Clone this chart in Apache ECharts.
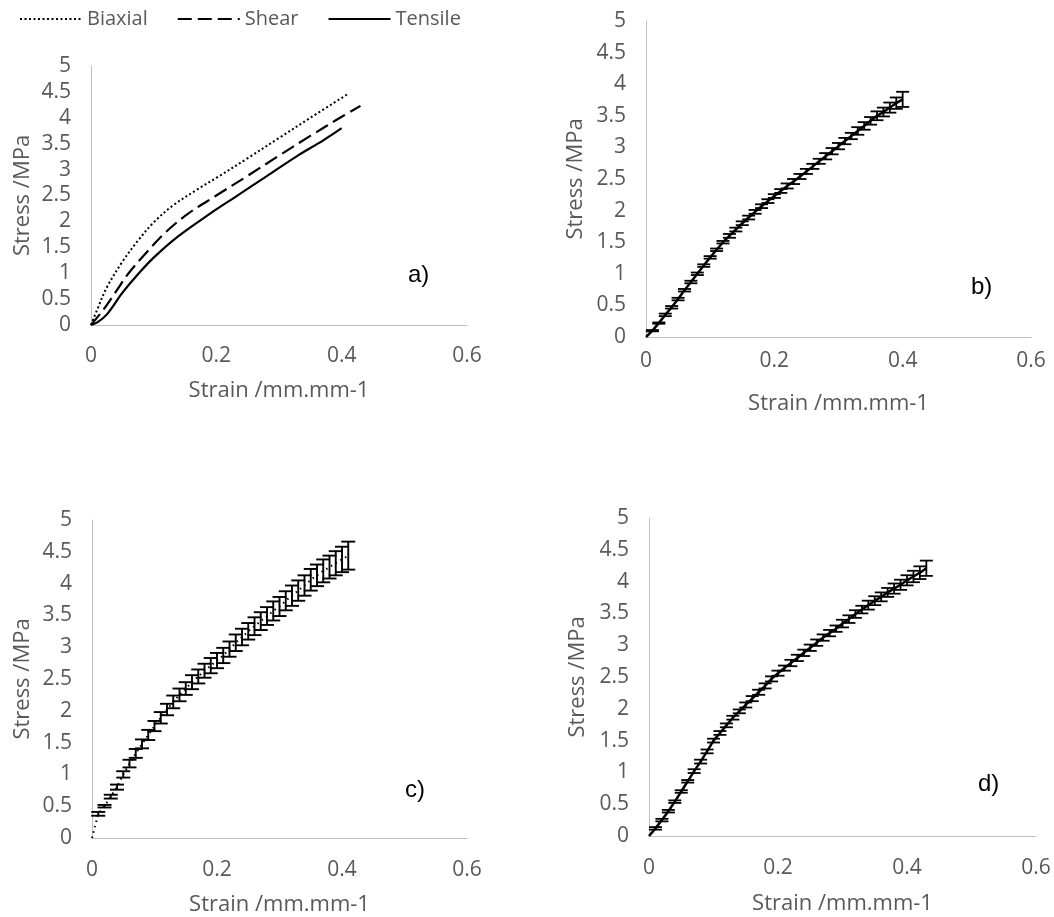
<!DOCTYPE html>
<html>
<head>
<meta charset="utf-8">
<script src="https://cdn.jsdelivr.net/npm/echarts@6/dist/echarts.min.js"></script>
<style>
html,body{margin:0;padding:0;background:#fff;}
#chart{width:1054px;height:917px;}
</style>
</head>
<body>
<div id="chart"></div>
<script>
// ---------- Data ----------
// Panel a) mean curves: [strain, stress]
const biaxialA = [[0,0],[0.01,0.3],[0.025,0.72],[0.05,1.22],[0.075,1.63],[0.1,1.98],[0.13,2.3],[0.17,2.62],[0.2,2.84],[0.25,3.22],[0.3,3.61],[0.35,4.0],[0.41,4.46]];
const shearA   = [[0,0],[0.02,0.3],[0.04,0.65],[0.06,1.0],[0.09,1.42],[0.12,1.8],[0.155,2.15],[0.2,2.5],[0.25,2.88],[0.3,3.27],[0.35,3.65],[0.4,4.02],[0.43,4.23]];
const tensileA = [[0,0],[0.01,0.05],[0.025,0.2],[0.05,0.62],[0.075,0.98],[0.1,1.3],[0.14,1.72],[0.19,2.15],[0.23,2.47],[0.28,2.87],[0.33,3.27],[0.37,3.56],[0.40,3.80]];

// Panel b) tensile with error bars
const strainB = [0,0.01,0.02,0.03,0.04,0.05,0.06,0.07,0.08,0.09,0.10,0.11,0.12,0.13,0.14,0.15,0.16,0.17,0.18,0.19,0.20,0.21,0.22,0.23,0.24,0.25,0.26,0.27,0.28,0.29,0.30,0.31,0.32,0.33,0.34,0.35,0.36,0.37,0.38,0.39,0.40];
const stressB = [0,0.1,0.22,0.35,0.47,0.6,0.74,0.87,1.0,1.13,1.26,1.38,1.5,1.6,1.7,1.8,1.89,1.98,2.07,2.15,2.23,2.31,2.39,2.46,2.54,2.62,2.70,2.78,2.86,2.94,3.02,3.10,3.18,3.26,3.34,3.42,3.50,3.56,3.63,3.70,3.76];
const errB    = [0,0.01,0.01,0.02,0.02,0.02,0.02,0.02,0.02,0.02,0.02,0.02,0.02,0.03,0.03,0.03,0.03,0.03,0.03,0.03,0.03,0.03,0.04,0.04,0.04,0.04,0.04,0.04,0.05,0.05,0.05,0.05,0.05,0.06,0.06,0.06,0.07,0.07,0.08,0.09,0.12];

// Panel c) biaxial with error bars
const strainC = [0,0.01,0.02,0.03,0.04,0.05,0.06,0.07,0.08,0.09,0.10,0.11,0.12,0.13,0.14,0.15,0.16,0.17,0.18,0.19,0.20,0.21,0.22,0.23,0.24,0.25,0.26,0.27,0.28,0.29,0.30,0.31,0.32,0.33,0.34,0.35,0.36,0.37,0.38,0.39,0.40,0.41];
const stressC = [0,0.38,0.5,0.65,0.8,1.0,1.17,1.33,1.48,1.62,1.76,1.89,2.02,2.14,2.25,2.35,2.45,2.54,2.63,2.71,2.79,2.87,2.97,3.07,3.16,3.25,3.33,3.41,3.49,3.57,3.64,3.73,3.81,3.89,3.97,4.06,4.13,4.20,4.26,4.32,4.38,4.44];
const errC    = [0,0.03,0.02,0.03,0.04,0.05,0.06,0.07,0.07,0.08,0.08,0.09,0.09,0.1,0.1,0.1,0.11,0.11,0.11,0.12,0.12,0.12,0.12,0.13,0.13,0.13,0.14,0.14,0.14,0.15,0.15,0.15,0.16,0.16,0.16,0.17,0.17,0.18,0.18,0.19,0.2,0.22];

// Panel d) shear with error bars
const strainD = [0,0.01,0.02,0.03,0.04,0.05,0.06,0.07,0.08,0.09,0.10,0.11,0.12,0.13,0.14,0.15,0.16,0.17,0.18,0.19,0.20,0.21,0.22,0.23,0.24,0.25,0.26,0.27,0.28,0.29,0.30,0.31,0.32,0.33,0.34,0.35,0.36,0.37,0.38,0.39,0.40,0.41,0.42,0.43];
const stressD = [0,0.12,0.25,0.39,0.54,0.7,0.86,1.02,1.17,1.33,1.5,1.62,1.74,1.86,1.96,2.06,2.16,2.26,2.36,2.47,2.56,2.64,2.72,2.8,2.88,2.96,3.04,3.12,3.19,3.26,3.34,3.41,3.49,3.56,3.63,3.7,3.76,3.83,3.89,3.95,4.02,4.08,4.14,4.21];
const errD    = [0,0.02,0.02,0.02,0.02,0.02,0.02,0.03,0.03,0.03,0.03,0.03,0.03,0.03,0.03,0.04,0.04,0.04,0.04,0.04,0.04,0.04,0.05,0.05,0.05,0.05,0.05,0.05,0.05,0.05,0.06,0.06,0.06,0.06,0.07,0.07,0.07,0.07,0.08,0.08,0.08,0.09,0.1,0.12];

const xTicks = {min:0, max:0.6, interval:0.2};
const yTicks = {min:0, max:5, interval:0.5};
const panelLabels = ['a)','b)','c)','d)'];
const legendNames = ['Biaxial','Shear','Tensile'];

// ---------- Helpers ----------
function pairs(xs, ys){ return xs.map((x,i)=>[x, ys[i]]); }
function bars(xs, ys, es){ return xs.map((x,i)=>[x, ys[i]-es[i], ys[i]+es[i]]); }

const GRAY = '#595959';
const FONT = 'Open Sans';

function errRender(capHalf, lw){
  return function(params, api){
    const x = api.value(0), lo = api.value(1), hi = api.value(2);
    if (hi - lo < 1e-9) return null;
    const pH = api.coord([x, hi]);
    const pL = api.coord([x, lo]);
    const st = {stroke:'#000', lineWidth:lw};
    return {type:'group', children:[
      {type:'line', shape:{x1:pH[0],y1:pH[1],x2:pL[0],y2:pL[1]}, style:st},
      {type:'line', shape:{x1:pH[0]-capHalf,y1:pH[1],x2:pH[0]+capHalf,y2:pH[1]}, style:st},
      {type:'line', shape:{x1:pL[0]-capHalf,y1:pL[1],x2:pL[0]+capHalf,y2:pL[1]}, style:st}
    ]};
  };
}

const grids = [
  {left:91,  top:66,  width:376, height:259},
  {left:646, top:21,  width:385, height:316},
  {left:92,  top:520, width:375, height:319},
  {left:649, top:518, width:387, height:318}
];
const xMargins = [21, 14, 22, 22];
const xNameGaps = [55, 56, 56, 57];
const yNameGaps = [57, 59, 58, 60];

const xAxes = grids.map((g,i)=>({
  gridIndex:i, type:'value', min:xTicks.min, max:xTicks.max, interval:xTicks.interval,
  axisLine:{show:true, onZero:false, lineStyle:{color:'#bfbfbf', width:1}},
  axisTick:{show:false}, splitLine:{show:false},
  axisLabel:{color:GRAY, fontFamily:FONT, fontSize:21, margin:xMargins[i], showMaxLabel:true},
  name:'Strain /mm.mm-1', nameLocation:'middle', nameGap:xNameGaps[i],
  nameTextStyle:{color:GRAY, fontFamily:FONT, fontSize:22}
}));
const yAxes = grids.map((g,i)=>({
  gridIndex:i, type:'value', min:yTicks.min, max:yTicks.max, interval:yTicks.interval,
  axisLine:{show:true, lineStyle:{color:'#bfbfbf', width:1}},
  axisTick:{show:false}, splitLine:{show:false},
  axisLabel:{color:GRAY, fontFamily:FONT, fontSize:21, margin:20},
  name:'Stress /MPa', nameLocation:'middle', nameGap:yNameGaps[i], nameRotate:90,
  nameTextStyle:{color:GRAY, fontFamily:FONT, fontSize:22}
}));

const series = [
  {name:legendNames[0], type:'line', xAxisIndex:0, yAxisIndex:0, data:biaxialA, smooth:0.35, symbol:'none', color:'#000',
   lineStyle:{color:'#000', width:2, type:[2,2.5]}},
  {name:legendNames[1], type:'line', xAxisIndex:0, yAxisIndex:0, data:shearA, smooth:0.35, symbol:'none', color:'#000',
   lineStyle:{color:'#000', width:2.2, type:[14,6]}},
  {name:legendNames[2], type:'line', xAxisIndex:0, yAxisIndex:0, data:tensileA, smooth:0.35, symbol:'none', color:'#000',
   lineStyle:{color:'#000', width:2.2, type:'solid'}},

  {type:'line', xAxisIndex:1, yAxisIndex:1, data:pairs(strainB, stressB), symbol:'none',
   lineStyle:{color:'#000', width:2.5}},
  {type:'custom', xAxisIndex:1, yAxisIndex:1, data:bars(strainB, stressB, errB),
   encode:{x:0, y:[1,2]}, renderItem:errRender(6.5, 1.8)},

  {type:'line', xAxisIndex:2, yAxisIndex:2, data:pairs(strainC, stressC), symbol:'none',
   lineStyle:{color:'#000', width:2, type:[1.5,4]}},
  {type:'custom', xAxisIndex:2, yAxisIndex:2, data:bars(strainC, stressC, errC),
   encode:{x:0, y:[1,2]}, renderItem:errRender(7, 1.9)},

  {type:'line', xAxisIndex:3, yAxisIndex:3, data:pairs(strainD, stressD), symbol:'none',
   lineStyle:{color:'#000', width:2.5}},
  {type:'custom', xAxisIndex:3, yAxisIndex:3, data:bars(strainD, stressD, errD),
   encode:{x:0, y:[1,2]}, renderItem:errRender(6.5, 1.8)}
];

const labelPos = [[420,278],[983,290],[417,793],[990,787]];
const graphic = panelLabels.map((t,i)=>({
  type:'text', left:labelPos[i][0]-12, top:labelPos[i][1]-15,
  style:{text:t, fill:'#000', font:'24px "Liberation Sans", Arial, sans-serif'}
}));

const chart = echarts.init(document.getElementById('chart'), null, {renderer:'canvas'});
chart.setOption({
  animation:false,
  backgroundColor:'#fff',
  grid:grids,
  xAxis:xAxes,
  yAxis:yAxes,
  legend:{
    data:legendNames, left:14, top:4, itemWidth:62, itemHeight:14, itemGap:29,
    itemStyle:{opacity:0, color:'rgba(0,0,0,0)', borderWidth:0},
    textStyle:{color:GRAY, fontFamily:FONT, fontSize:20}
  },
  graphic:graphic,
  series:series
});
</script>
</body>
</html>
